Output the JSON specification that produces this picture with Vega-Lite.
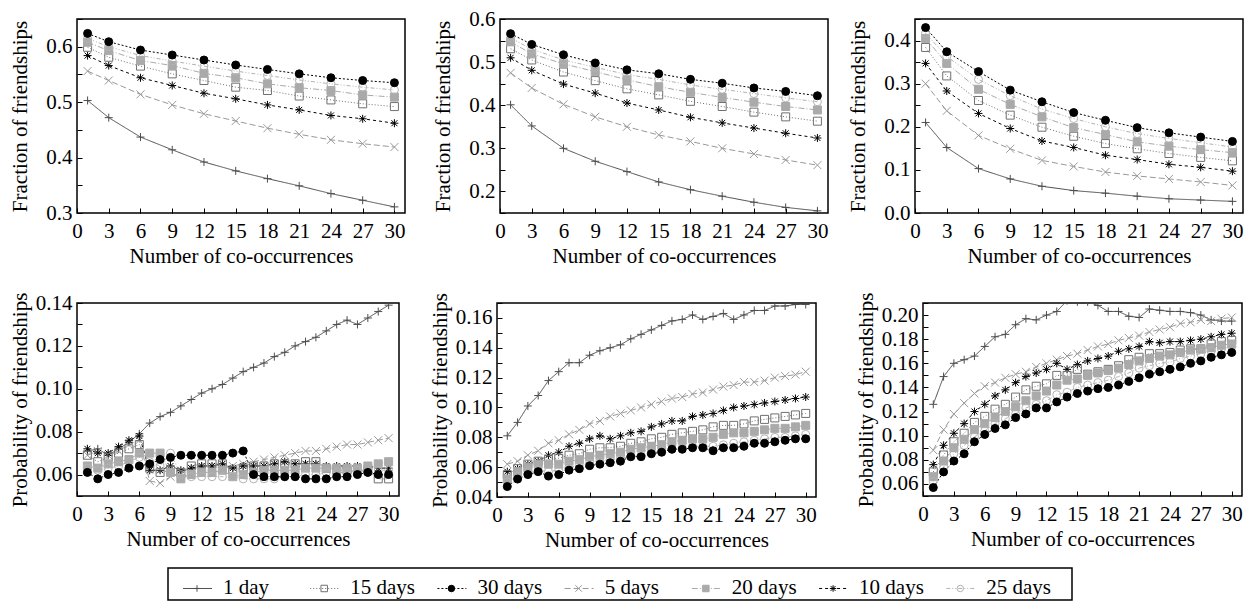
{
"$schema": "https://vega.github.io/schema/vega-lite/v6.json",
"padding": {"top": 7, "left": 8, "right": 5, "bottom": 0},
"datasets": {"d": [
{"p":1,"s":"1 day","x":1,"y":0.503},{"p":1,"s":"1 day","x":3,"y":0.472},{"p":1,"s":"1 day","x":6,"y":0.437},{"p":1,"s":"1 day","x":9,"y":0.414},{"p":1,"s":"1 day","x":12,"y":0.392},{"p":1,"s":"1 day","x":15,"y":0.376},{"p":1,"s":"1 day","x":18,"y":0.362},{"p":1,"s":"1 day","x":21,"y":0.349},{"p":1,"s":"1 day","x":24,"y":0.335},{"p":1,"s":"1 day","x":27,"y":0.323},{"p":1,"s":"1 day","x":30,"y":0.311},
{"p":1,"s":"5 days","x":1,"y":0.556},{"p":1,"s":"5 days","x":3,"y":0.539},{"p":1,"s":"5 days","x":6,"y":0.514},{"p":1,"s":"5 days","x":9,"y":0.495},{"p":1,"s":"5 days","x":12,"y":0.479},{"p":1,"s":"5 days","x":15,"y":0.466},{"p":1,"s":"5 days","x":18,"y":0.453},{"p":1,"s":"5 days","x":21,"y":0.442},{"p":1,"s":"5 days","x":24,"y":0.432},{"p":1,"s":"5 days","x":27,"y":0.425},{"p":1,"s":"5 days","x":30,"y":0.419},
{"p":1,"s":"10 days","x":1,"y":0.584},{"p":1,"s":"10 days","x":3,"y":0.566},{"p":1,"s":"10 days","x":6,"y":0.544},{"p":1,"s":"10 days","x":9,"y":0.530},{"p":1,"s":"10 days","x":12,"y":0.516},{"p":1,"s":"10 days","x":15,"y":0.506},{"p":1,"s":"10 days","x":18,"y":0.495},{"p":1,"s":"10 days","x":21,"y":0.486},{"p":1,"s":"10 days","x":24,"y":0.476},{"p":1,"s":"10 days","x":27,"y":0.470},{"p":1,"s":"10 days","x":30,"y":0.462},
{"p":1,"s":"15 days","x":1,"y":0.599},{"p":1,"s":"15 days","x":3,"y":0.581},{"p":1,"s":"15 days","x":6,"y":0.565},{"p":1,"s":"15 days","x":9,"y":0.551},{"p":1,"s":"15 days","x":12,"y":0.539},{"p":1,"s":"15 days","x":15,"y":0.527},{"p":1,"s":"15 days","x":18,"y":0.521},{"p":1,"s":"15 days","x":21,"y":0.511},{"p":1,"s":"15 days","x":24,"y":0.504},{"p":1,"s":"15 days","x":27,"y":0.497},{"p":1,"s":"15 days","x":30,"y":0.492},
{"p":1,"s":"20 days","x":1,"y":0.608},{"p":1,"s":"20 days","x":3,"y":0.593},{"p":1,"s":"20 days","x":6,"y":0.575},{"p":1,"s":"20 days","x":9,"y":0.566},{"p":1,"s":"20 days","x":12,"y":0.552},{"p":1,"s":"20 days","x":15,"y":0.544},{"p":1,"s":"20 days","x":18,"y":0.533},{"p":1,"s":"20 days","x":21,"y":0.526},{"p":1,"s":"20 days","x":24,"y":0.521},{"p":1,"s":"20 days","x":27,"y":0.513},{"p":1,"s":"20 days","x":30,"y":0.509},
{"p":1,"s":"25 days","x":1,"y":0.615},{"p":1,"s":"25 days","x":3,"y":0.600},{"p":1,"s":"25 days","x":6,"y":0.584},{"p":1,"s":"25 days","x":9,"y":0.574},{"p":1,"s":"25 days","x":12,"y":0.565},{"p":1,"s":"25 days","x":15,"y":0.556},{"p":1,"s":"25 days","x":18,"y":0.548},{"p":1,"s":"25 days","x":21,"y":0.540},{"p":1,"s":"25 days","x":24,"y":0.533},{"p":1,"s":"25 days","x":27,"y":0.527},{"p":1,"s":"25 days","x":30,"y":0.522},
{"p":1,"s":"30 days","x":1,"y":0.624},{"p":1,"s":"30 days","x":3,"y":0.609},{"p":1,"s":"30 days","x":6,"y":0.594},{"p":1,"s":"30 days","x":9,"y":0.585},{"p":1,"s":"30 days","x":12,"y":0.576},{"p":1,"s":"30 days","x":15,"y":0.567},{"p":1,"s":"30 days","x":18,"y":0.559},{"p":1,"s":"30 days","x":21,"y":0.551},{"p":1,"s":"30 days","x":24,"y":0.544},{"p":1,"s":"30 days","x":27,"y":0.539},{"p":1,"s":"30 days","x":30,"y":0.535},
{"p":2,"s":"1 day","x":1,"y":0.401},{"p":2,"s":"1 day","x":3,"y":0.352},{"p":2,"s":"1 day","x":6,"y":0.300},{"p":2,"s":"1 day","x":9,"y":0.270},{"p":2,"s":"1 day","x":12,"y":0.246},{"p":2,"s":"1 day","x":15,"y":0.222},{"p":2,"s":"1 day","x":18,"y":0.204},{"p":2,"s":"1 day","x":21,"y":0.189},{"p":2,"s":"1 day","x":24,"y":0.175},{"p":2,"s":"1 day","x":27,"y":0.163},{"p":2,"s":"1 day","x":30,"y":0.155},
{"p":2,"s":"5 days","x":1,"y":0.475},{"p":2,"s":"5 days","x":3,"y":0.440},{"p":2,"s":"5 days","x":6,"y":0.402},{"p":2,"s":"5 days","x":9,"y":0.373},{"p":2,"s":"5 days","x":12,"y":0.350},{"p":2,"s":"5 days","x":15,"y":0.331},{"p":2,"s":"5 days","x":18,"y":0.316},{"p":2,"s":"5 days","x":21,"y":0.300},{"p":2,"s":"5 days","x":24,"y":0.287},{"p":2,"s":"5 days","x":27,"y":0.273},{"p":2,"s":"5 days","x":30,"y":0.261},
{"p":2,"s":"10 days","x":1,"y":0.510},{"p":2,"s":"10 days","x":3,"y":0.481},{"p":2,"s":"10 days","x":6,"y":0.449},{"p":2,"s":"10 days","x":9,"y":0.428},{"p":2,"s":"10 days","x":12,"y":0.405},{"p":2,"s":"10 days","x":15,"y":0.389},{"p":2,"s":"10 days","x":18,"y":0.372},{"p":2,"s":"10 days","x":21,"y":0.359},{"p":2,"s":"10 days","x":24,"y":0.347},{"p":2,"s":"10 days","x":27,"y":0.335},{"p":2,"s":"10 days","x":30,"y":0.324},
{"p":2,"s":"15 days","x":1,"y":0.531},{"p":2,"s":"15 days","x":3,"y":0.505},{"p":2,"s":"15 days","x":6,"y":0.477},{"p":2,"s":"15 days","x":9,"y":0.457},{"p":2,"s":"15 days","x":12,"y":0.438},{"p":2,"s":"15 days","x":15,"y":0.424},{"p":2,"s":"15 days","x":18,"y":0.409},{"p":2,"s":"15 days","x":21,"y":0.397},{"p":2,"s":"15 days","x":24,"y":0.384},{"p":2,"s":"15 days","x":27,"y":0.373},{"p":2,"s":"15 days","x":30,"y":0.363},
{"p":2,"s":"20 days","x":1,"y":0.547},{"p":2,"s":"20 days","x":3,"y":0.519},{"p":2,"s":"20 days","x":6,"y":0.496},{"p":2,"s":"20 days","x":9,"y":0.478},{"p":2,"s":"20 days","x":12,"y":0.459},{"p":2,"s":"20 days","x":15,"y":0.443},{"p":2,"s":"20 days","x":18,"y":0.430},{"p":2,"s":"20 days","x":21,"y":0.418},{"p":2,"s":"20 days","x":24,"y":0.407},{"p":2,"s":"20 days","x":27,"y":0.397},{"p":2,"s":"20 days","x":30,"y":0.389},
{"p":2,"s":"25 days","x":1,"y":0.556},{"p":2,"s":"25 days","x":3,"y":0.530},{"p":2,"s":"25 days","x":6,"y":0.505},{"p":2,"s":"25 days","x":9,"y":0.488},{"p":2,"s":"25 days","x":12,"y":0.471},{"p":2,"s":"25 days","x":15,"y":0.460},{"p":2,"s":"25 days","x":18,"y":0.447},{"p":2,"s":"25 days","x":21,"y":0.437},{"p":2,"s":"25 days","x":24,"y":0.427},{"p":2,"s":"25 days","x":27,"y":0.417},{"p":2,"s":"25 days","x":30,"y":0.408},
{"p":2,"s":"30 days","x":1,"y":0.566},{"p":2,"s":"30 days","x":3,"y":0.541},{"p":2,"s":"30 days","x":6,"y":0.517},{"p":2,"s":"30 days","x":9,"y":0.498},{"p":2,"s":"30 days","x":12,"y":0.482},{"p":2,"s":"30 days","x":15,"y":0.473},{"p":2,"s":"30 days","x":18,"y":0.460},{"p":2,"s":"30 days","x":21,"y":0.451},{"p":2,"s":"30 days","x":24,"y":0.440},{"p":2,"s":"30 days","x":27,"y":0.432},{"p":2,"s":"30 days","x":30,"y":0.422},
{"p":3,"s":"1 day","x":1,"y":0.210},{"p":3,"s":"1 day","x":3,"y":0.152},{"p":3,"s":"1 day","x":6,"y":0.103},{"p":3,"s":"1 day","x":9,"y":0.079},{"p":3,"s":"1 day","x":12,"y":0.062},{"p":3,"s":"1 day","x":15,"y":0.052},{"p":3,"s":"1 day","x":18,"y":0.046},{"p":3,"s":"1 day","x":21,"y":0.039},{"p":3,"s":"1 day","x":24,"y":0.033},{"p":3,"s":"1 day","x":27,"y":0.030},{"p":3,"s":"1 day","x":30,"y":0.027},
{"p":3,"s":"5 days","x":1,"y":0.300},{"p":3,"s":"5 days","x":3,"y":0.237},{"p":3,"s":"5 days","x":6,"y":0.180},{"p":3,"s":"5 days","x":9,"y":0.149},{"p":3,"s":"5 days","x":12,"y":0.122},{"p":3,"s":"5 days","x":15,"y":0.108},{"p":3,"s":"5 days","x":18,"y":0.095},{"p":3,"s":"5 days","x":21,"y":0.086},{"p":3,"s":"5 days","x":24,"y":0.079},{"p":3,"s":"5 days","x":27,"y":0.072},{"p":3,"s":"5 days","x":30,"y":0.064},
{"p":3,"s":"10 days","x":1,"y":0.347},{"p":3,"s":"10 days","x":3,"y":0.283},{"p":3,"s":"10 days","x":6,"y":0.231},{"p":3,"s":"10 days","x":9,"y":0.196},{"p":3,"s":"10 days","x":12,"y":0.167},{"p":3,"s":"10 days","x":15,"y":0.152},{"p":3,"s":"10 days","x":18,"y":0.134},{"p":3,"s":"10 days","x":21,"y":0.124},{"p":3,"s":"10 days","x":24,"y":0.113},{"p":3,"s":"10 days","x":27,"y":0.106},{"p":3,"s":"10 days","x":30,"y":0.097},
{"p":3,"s":"15 days","x":1,"y":0.384},{"p":3,"s":"15 days","x":3,"y":0.318},{"p":3,"s":"15 days","x":6,"y":0.261},{"p":3,"s":"15 days","x":9,"y":0.227},{"p":3,"s":"15 days","x":12,"y":0.199},{"p":3,"s":"15 days","x":15,"y":0.178},{"p":3,"s":"15 days","x":18,"y":0.161},{"p":3,"s":"15 days","x":21,"y":0.149},{"p":3,"s":"15 days","x":24,"y":0.138},{"p":3,"s":"15 days","x":27,"y":0.129},{"p":3,"s":"15 days","x":30,"y":0.121},
{"p":3,"s":"20 days","x":1,"y":0.405},{"p":3,"s":"20 days","x":3,"y":0.347},{"p":3,"s":"20 days","x":6,"y":0.287},{"p":3,"s":"20 days","x":9,"y":0.252},{"p":3,"s":"20 days","x":12,"y":0.223},{"p":3,"s":"20 days","x":15,"y":0.198},{"p":3,"s":"20 days","x":18,"y":0.182},{"p":3,"s":"20 days","x":21,"y":0.165},{"p":3,"s":"20 days","x":24,"y":0.155},{"p":3,"s":"20 days","x":27,"y":0.147},{"p":3,"s":"20 days","x":30,"y":0.140},
{"p":3,"s":"25 days","x":1,"y":0.417},{"p":3,"s":"25 days","x":3,"y":0.363},{"p":3,"s":"25 days","x":6,"y":0.310},{"p":3,"s":"25 days","x":9,"y":0.272},{"p":3,"s":"25 days","x":12,"y":0.241},{"p":3,"s":"25 days","x":15,"y":0.219},{"p":3,"s":"25 days","x":18,"y":0.200},{"p":3,"s":"25 days","x":21,"y":0.184},{"p":3,"s":"25 days","x":24,"y":0.173},{"p":3,"s":"25 days","x":27,"y":0.163},{"p":3,"s":"25 days","x":30,"y":0.153},
{"p":3,"s":"30 days","x":1,"y":0.430},{"p":3,"s":"30 days","x":3,"y":0.374},{"p":3,"s":"30 days","x":6,"y":0.328},{"p":3,"s":"30 days","x":9,"y":0.285},{"p":3,"s":"30 days","x":12,"y":0.258},{"p":3,"s":"30 days","x":15,"y":0.233},{"p":3,"s":"30 days","x":18,"y":0.215},{"p":3,"s":"30 days","x":21,"y":0.198},{"p":3,"s":"30 days","x":24,"y":0.186},{"p":3,"s":"30 days","x":27,"y":0.176},{"p":3,"s":"30 days","x":30,"y":0.166},
{"p":4,"s":"1 day","x":1,"y":0.071},{"p":4,"s":"1 day","x":2,"y":0.072},{"p":4,"s":"1 day","x":3,"y":0.069},{"p":4,"s":"1 day","x":4,"y":0.072},{"p":4,"s":"1 day","x":5,"y":0.075},{"p":4,"s":"1 day","x":6,"y":0.079},{"p":4,"s":"1 day","x":7,"y":0.084},{"p":4,"s":"1 day","x":8,"y":0.087},{"p":4,"s":"1 day","x":9,"y":0.089},{"p":4,"s":"1 day","x":10,"y":0.092},{"p":4,"s":"1 day","x":11,"y":0.095},{"p":4,"s":"1 day","x":12,"y":0.098},{"p":4,"s":"1 day","x":13,"y":0.100},{"p":4,"s":"1 day","x":14,"y":0.102},{"p":4,"s":"1 day","x":15,"y":0.105},{"p":4,"s":"1 day","x":16,"y":0.108},{"p":4,"s":"1 day","x":17,"y":0.110},{"p":4,"s":"1 day","x":18,"y":0.112},{"p":4,"s":"1 day","x":19,"y":0.115},{"p":4,"s":"1 day","x":20,"y":0.117},{"p":4,"s":"1 day","x":21,"y":0.120},{"p":4,"s":"1 day","x":22,"y":0.122},{"p":4,"s":"1 day","x":23,"y":0.124},{"p":4,"s":"1 day","x":24,"y":0.127},{"p":4,"s":"1 day","x":25,"y":0.130},{"p":4,"s":"1 day","x":26,"y":0.132},{"p":4,"s":"1 day","x":27,"y":0.130},{"p":4,"s":"1 day","x":28,"y":0.133},{"p":4,"s":"1 day","x":29,"y":0.136},{"p":4,"s":"1 day","x":30,"y":0.139},
{"p":4,"s":"5 days","x":1,"y":0.069},{"p":4,"s":"5 days","x":2,"y":0.071},{"p":4,"s":"5 days","x":3,"y":0.069},{"p":4,"s":"5 days","x":4,"y":0.071},{"p":4,"s":"5 days","x":5,"y":0.074},{"p":4,"s":"5 days","x":6,"y":0.076},{"p":4,"s":"5 days","x":7,"y":0.057},{"p":4,"s":"5 days","x":8,"y":0.056},{"p":4,"s":"5 days","x":9,"y":0.059},{"p":4,"s":"5 days","x":10,"y":0.061},{"p":4,"s":"5 days","x":11,"y":0.063},{"p":4,"s":"5 days","x":12,"y":0.063},{"p":4,"s":"5 days","x":13,"y":0.063},{"p":4,"s":"5 days","x":14,"y":0.063},{"p":4,"s":"5 days","x":15,"y":0.064},{"p":4,"s":"5 days","x":16,"y":0.065},{"p":4,"s":"5 days","x":17,"y":0.066},{"p":4,"s":"5 days","x":18,"y":0.067},{"p":4,"s":"5 days","x":19,"y":0.068},{"p":4,"s":"5 days","x":20,"y":0.069},{"p":4,"s":"5 days","x":21,"y":0.070},{"p":4,"s":"5 days","x":22,"y":0.071},{"p":4,"s":"5 days","x":23,"y":0.071},{"p":4,"s":"5 days","x":24,"y":0.072},{"p":4,"s":"5 days","x":25,"y":0.073},{"p":4,"s":"5 days","x":26,"y":0.074},{"p":4,"s":"5 days","x":27,"y":0.074},{"p":4,"s":"5 days","x":28,"y":0.075},{"p":4,"s":"5 days","x":29,"y":0.076},{"p":4,"s":"5 days","x":30,"y":0.077},
{"p":4,"s":"10 days","x":1,"y":0.072},{"p":4,"s":"10 days","x":2,"y":0.070},{"p":4,"s":"10 days","x":3,"y":0.070},{"p":4,"s":"10 days","x":4,"y":0.073},{"p":4,"s":"10 days","x":5,"y":0.076},{"p":4,"s":"10 days","x":6,"y":0.078},{"p":4,"s":"10 days","x":7,"y":0.062},{"p":4,"s":"10 days","x":8,"y":0.062},{"p":4,"s":"10 days","x":9,"y":0.064},{"p":4,"s":"10 days","x":10,"y":0.062},{"p":4,"s":"10 days","x":11,"y":0.063},{"p":4,"s":"10 days","x":12,"y":0.064},{"p":4,"s":"10 days","x":13,"y":0.064},{"p":4,"s":"10 days","x":14,"y":0.065},{"p":4,"s":"10 days","x":15,"y":0.063},{"p":4,"s":"10 days","x":16,"y":0.064},{"p":4,"s":"10 days","x":17,"y":0.064},{"p":4,"s":"10 days","x":18,"y":0.064},{"p":4,"s":"10 days","x":19,"y":0.065},{"p":4,"s":"10 days","x":20,"y":0.066},{"p":4,"s":"10 days","x":21,"y":0.065},{"p":4,"s":"10 days","x":22,"y":0.065},{"p":4,"s":"10 days","x":23,"y":0.065},{"p":4,"s":"10 days","x":24,"y":0.064},{"p":4,"s":"10 days","x":25,"y":0.064},{"p":4,"s":"10 days","x":26,"y":0.064},{"p":4,"s":"10 days","x":27,"y":0.064},{"p":4,"s":"10 days","x":28,"y":0.064},{"p":4,"s":"10 days","x":29,"y":0.063},{"p":4,"s":"10 days","x":30,"y":0.063},
{"p":4,"s":"15 days","x":1,"y":0.069},{"p":4,"s":"15 days","x":2,"y":0.066},{"p":4,"s":"15 days","x":3,"y":0.068},{"p":4,"s":"15 days","x":4,"y":0.070},{"p":4,"s":"15 days","x":5,"y":0.072},{"p":4,"s":"15 days","x":6,"y":0.074},{"p":4,"s":"15 days","x":7,"y":0.063},{"p":4,"s":"15 days","x":8,"y":0.061},{"p":4,"s":"15 days","x":9,"y":0.062},{"p":4,"s":"15 days","x":10,"y":0.061},{"p":4,"s":"15 days","x":11,"y":0.064},{"p":4,"s":"15 days","x":12,"y":0.065},{"p":4,"s":"15 days","x":13,"y":0.065},{"p":4,"s":"15 days","x":14,"y":0.065},{"p":4,"s":"15 days","x":15,"y":0.062},{"p":4,"s":"15 days","x":16,"y":0.063},{"p":4,"s":"15 days","x":17,"y":0.064},{"p":4,"s":"15 days","x":18,"y":0.064},{"p":4,"s":"15 days","x":19,"y":0.065},{"p":4,"s":"15 days","x":20,"y":0.065},{"p":4,"s":"15 days","x":21,"y":0.065},{"p":4,"s":"15 days","x":22,"y":0.066},{"p":4,"s":"15 days","x":23,"y":0.066},{"p":4,"s":"15 days","x":24,"y":0.063},{"p":4,"s":"15 days","x":25,"y":0.062},{"p":4,"s":"15 days","x":26,"y":0.062},{"p":4,"s":"15 days","x":27,"y":0.062},{"p":4,"s":"15 days","x":28,"y":0.062},{"p":4,"s":"15 days","x":29,"y":0.058},{"p":4,"s":"15 days","x":30,"y":0.058},
{"p":4,"s":"20 days","x":1,"y":0.064},{"p":4,"s":"20 days","x":2,"y":0.063},{"p":4,"s":"20 days","x":3,"y":0.065},{"p":4,"s":"20 days","x":4,"y":0.066},{"p":4,"s":"20 days","x":5,"y":0.067},{"p":4,"s":"20 days","x":6,"y":0.070},{"p":4,"s":"20 days","x":7,"y":0.070},{"p":4,"s":"20 days","x":8,"y":0.070},{"p":4,"s":"20 days","x":9,"y":0.061},{"p":4,"s":"20 days","x":10,"y":0.058},{"p":4,"s":"20 days","x":11,"y":0.060},{"p":4,"s":"20 days","x":12,"y":0.061},{"p":4,"s":"20 days","x":13,"y":0.061},{"p":4,"s":"20 days","x":14,"y":0.062},{"p":4,"s":"20 days","x":15,"y":0.059},{"p":4,"s":"20 days","x":16,"y":0.060},{"p":4,"s":"20 days","x":17,"y":0.061},{"p":4,"s":"20 days","x":18,"y":0.062},{"p":4,"s":"20 days","x":19,"y":0.062},{"p":4,"s":"20 days","x":20,"y":0.062},{"p":4,"s":"20 days","x":21,"y":0.062},{"p":4,"s":"20 days","x":22,"y":0.063},{"p":4,"s":"20 days","x":23,"y":0.063},{"p":4,"s":"20 days","x":24,"y":0.063},{"p":4,"s":"20 days","x":25,"y":0.063},{"p":4,"s":"20 days","x":26,"y":0.063},{"p":4,"s":"20 days","x":27,"y":0.063},{"p":4,"s":"20 days","x":28,"y":0.064},{"p":4,"s":"20 days","x":29,"y":0.065},{"p":4,"s":"20 days","x":30,"y":0.066},
{"p":4,"s":"25 days","x":1,"y":0.063},{"p":4,"s":"25 days","x":2,"y":0.062},{"p":4,"s":"25 days","x":3,"y":0.063},{"p":4,"s":"25 days","x":4,"y":0.064},{"p":4,"s":"25 days","x":5,"y":0.066},{"p":4,"s":"25 days","x":6,"y":0.068},{"p":4,"s":"25 days","x":7,"y":0.066},{"p":4,"s":"25 days","x":8,"y":0.064},{"p":4,"s":"25 days","x":9,"y":0.070},{"p":4,"s":"25 days","x":10,"y":0.060},{"p":4,"s":"25 days","x":11,"y":0.059},{"p":4,"s":"25 days","x":12,"y":0.059},{"p":4,"s":"25 days","x":13,"y":0.059},{"p":4,"s":"25 days","x":14,"y":0.059},{"p":4,"s":"25 days","x":15,"y":0.059},{"p":4,"s":"25 days","x":16,"y":0.058},{"p":4,"s":"25 days","x":17,"y":0.058},{"p":4,"s":"25 days","x":18,"y":0.058},{"p":4,"s":"25 days","x":19,"y":0.058},{"p":4,"s":"25 days","x":20,"y":0.059},{"p":4,"s":"25 days","x":21,"y":0.059},{"p":4,"s":"25 days","x":22,"y":0.060},{"p":4,"s":"25 days","x":23,"y":0.060},{"p":4,"s":"25 days","x":24,"y":0.061},{"p":4,"s":"25 days","x":25,"y":0.061},{"p":4,"s":"25 days","x":26,"y":0.061},{"p":4,"s":"25 days","x":27,"y":0.062},{"p":4,"s":"25 days","x":28,"y":0.061},{"p":4,"s":"25 days","x":29,"y":0.062},{"p":4,"s":"25 days","x":30,"y":0.062},
{"p":4,"s":"30 days","x":1,"y":0.061},{"p":4,"s":"30 days","x":2,"y":0.058},{"p":4,"s":"30 days","x":3,"y":0.060},{"p":4,"s":"30 days","x":4,"y":0.061},{"p":4,"s":"30 days","x":5,"y":0.063},{"p":4,"s":"30 days","x":6,"y":0.064},{"p":4,"s":"30 days","x":7,"y":0.065},{"p":4,"s":"30 days","x":8,"y":0.067},{"p":4,"s":"30 days","x":9,"y":0.068},{"p":4,"s":"30 days","x":10,"y":0.069},{"p":4,"s":"30 days","x":11,"y":0.069},{"p":4,"s":"30 days","x":12,"y":0.069},{"p":4,"s":"30 days","x":13,"y":0.069},{"p":4,"s":"30 days","x":14,"y":0.069},{"p":4,"s":"30 days","x":15,"y":0.070},{"p":4,"s":"30 days","x":16,"y":0.071},{"p":4,"s":"30 days","x":17,"y":0.060},{"p":4,"s":"30 days","x":18,"y":0.059},{"p":4,"s":"30 days","x":19,"y":0.059},{"p":4,"s":"30 days","x":20,"y":0.059},{"p":4,"s":"30 days","x":21,"y":0.059},{"p":4,"s":"30 days","x":22,"y":0.058},{"p":4,"s":"30 days","x":23,"y":0.058},{"p":4,"s":"30 days","x":24,"y":0.058},{"p":4,"s":"30 days","x":25,"y":0.059},{"p":4,"s":"30 days","x":26,"y":0.059},{"p":4,"s":"30 days","x":27,"y":0.060},{"p":4,"s":"30 days","x":28,"y":0.061},{"p":4,"s":"30 days","x":29,"y":0.060},{"p":4,"s":"30 days","x":30,"y":0.060},
{"p":5,"s":"1 day","x":1,"y":0.081},{"p":5,"s":"1 day","x":2,"y":0.090},{"p":5,"s":"1 day","x":3,"y":0.101},{"p":5,"s":"1 day","x":4,"y":0.108},{"p":5,"s":"1 day","x":5,"y":0.118},{"p":5,"s":"1 day","x":6,"y":0.124},{"p":5,"s":"1 day","x":7,"y":0.130},{"p":5,"s":"1 day","x":8,"y":0.130},{"p":5,"s":"1 day","x":9,"y":0.135},{"p":5,"s":"1 day","x":10,"y":0.138},{"p":5,"s":"1 day","x":11,"y":0.140},{"p":5,"s":"1 day","x":12,"y":0.142},{"p":5,"s":"1 day","x":13,"y":0.146},{"p":5,"s":"1 day","x":14,"y":0.149},{"p":5,"s":"1 day","x":15,"y":0.152},{"p":5,"s":"1 day","x":16,"y":0.155},{"p":5,"s":"1 day","x":17,"y":0.158},{"p":5,"s":"1 day","x":18,"y":0.159},{"p":5,"s":"1 day","x":19,"y":0.162},{"p":5,"s":"1 day","x":20,"y":0.159},{"p":5,"s":"1 day","x":21,"y":0.161},{"p":5,"s":"1 day","x":22,"y":0.163},{"p":5,"s":"1 day","x":23,"y":0.159},{"p":5,"s":"1 day","x":24,"y":0.162},{"p":5,"s":"1 day","x":25,"y":0.165},{"p":5,"s":"1 day","x":26,"y":0.165},{"p":5,"s":"1 day","x":27,"y":0.168},{"p":5,"s":"1 day","x":28,"y":0.168},{"p":5,"s":"1 day","x":29,"y":0.169},{"p":5,"s":"1 day","x":30,"y":0.169},
{"p":5,"s":"5 days","x":1,"y":0.062},{"p":5,"s":"5 days","x":2,"y":0.064},{"p":5,"s":"5 days","x":3,"y":0.068},{"p":5,"s":"5 days","x":4,"y":0.071},{"p":5,"s":"5 days","x":5,"y":0.076},{"p":5,"s":"5 days","x":6,"y":0.078},{"p":5,"s":"5 days","x":7,"y":0.082},{"p":5,"s":"5 days","x":8,"y":0.085},{"p":5,"s":"5 days","x":9,"y":0.089},{"p":5,"s":"5 days","x":10,"y":0.091},{"p":5,"s":"5 days","x":11,"y":0.094},{"p":5,"s":"5 days","x":12,"y":0.096},{"p":5,"s":"5 days","x":13,"y":0.098},{"p":5,"s":"5 days","x":14,"y":0.100},{"p":5,"s":"5 days","x":15,"y":0.102},{"p":5,"s":"5 days","x":16,"y":0.104},{"p":5,"s":"5 days","x":17,"y":0.106},{"p":5,"s":"5 days","x":18,"y":0.107},{"p":5,"s":"5 days","x":19,"y":0.109},{"p":5,"s":"5 days","x":20,"y":0.110},{"p":5,"s":"5 days","x":21,"y":0.112},{"p":5,"s":"5 days","x":22,"y":0.114},{"p":5,"s":"5 days","x":23,"y":0.115},{"p":5,"s":"5 days","x":24,"y":0.117},{"p":5,"s":"5 days","x":25,"y":0.117},{"p":5,"s":"5 days","x":26,"y":0.118},{"p":5,"s":"5 days","x":27,"y":0.120},{"p":5,"s":"5 days","x":28,"y":0.121},{"p":5,"s":"5 days","x":29,"y":0.122},{"p":5,"s":"5 days","x":30,"y":0.124},
{"p":5,"s":"10 days","x":1,"y":0.057},{"p":5,"s":"10 days","x":2,"y":0.059},{"p":5,"s":"10 days","x":3,"y":0.062},{"p":5,"s":"10 days","x":4,"y":0.064},{"p":5,"s":"10 days","x":5,"y":0.068},{"p":5,"s":"10 days","x":6,"y":0.070},{"p":5,"s":"10 days","x":7,"y":0.074},{"p":5,"s":"10 days","x":8,"y":0.076},{"p":5,"s":"10 days","x":9,"y":0.079},{"p":5,"s":"10 days","x":10,"y":0.081},{"p":5,"s":"10 days","x":11,"y":0.079},{"p":5,"s":"10 days","x":12,"y":0.081},{"p":5,"s":"10 days","x":13,"y":0.083},{"p":5,"s":"10 days","x":14,"y":0.084},{"p":5,"s":"10 days","x":15,"y":0.087},{"p":5,"s":"10 days","x":16,"y":0.089},{"p":5,"s":"10 days","x":17,"y":0.091},{"p":5,"s":"10 days","x":18,"y":0.091},{"p":5,"s":"10 days","x":19,"y":0.094},{"p":5,"s":"10 days","x":20,"y":0.095},{"p":5,"s":"10 days","x":21,"y":0.096},{"p":5,"s":"10 days","x":22,"y":0.098},{"p":5,"s":"10 days","x":23,"y":0.100},{"p":5,"s":"10 days","x":24,"y":0.101},{"p":5,"s":"10 days","x":25,"y":0.102},{"p":5,"s":"10 days","x":26,"y":0.103},{"p":5,"s":"10 days","x":27,"y":0.104},{"p":5,"s":"10 days","x":28,"y":0.105},{"p":5,"s":"10 days","x":29,"y":0.106},{"p":5,"s":"10 days","x":30,"y":0.107},
{"p":5,"s":"15 days","x":1,"y":0.055},{"p":5,"s":"15 days","x":2,"y":0.059},{"p":5,"s":"15 days","x":3,"y":0.062},{"p":5,"s":"15 days","x":4,"y":0.064},{"p":5,"s":"15 days","x":5,"y":0.065},{"p":5,"s":"15 days","x":6,"y":0.066},{"p":5,"s":"15 days","x":7,"y":0.068},{"p":5,"s":"15 days","x":8,"y":0.069},{"p":5,"s":"15 days","x":9,"y":0.072},{"p":5,"s":"15 days","x":10,"y":0.073},{"p":5,"s":"15 days","x":11,"y":0.073},{"p":5,"s":"15 days","x":12,"y":0.074},{"p":5,"s":"15 days","x":13,"y":0.076},{"p":5,"s":"15 days","x":14,"y":0.077},{"p":5,"s":"15 days","x":15,"y":0.079},{"p":5,"s":"15 days","x":16,"y":0.080},{"p":5,"s":"15 days","x":17,"y":0.082},{"p":5,"s":"15 days","x":18,"y":0.083},{"p":5,"s":"15 days","x":19,"y":0.084},{"p":5,"s":"15 days","x":20,"y":0.085},{"p":5,"s":"15 days","x":21,"y":0.087},{"p":5,"s":"15 days","x":22,"y":0.088},{"p":5,"s":"15 days","x":23,"y":0.088},{"p":5,"s":"15 days","x":24,"y":0.089},{"p":5,"s":"15 days","x":25,"y":0.091},{"p":5,"s":"15 days","x":26,"y":0.092},{"p":5,"s":"15 days","x":27,"y":0.093},{"p":5,"s":"15 days","x":28,"y":0.094},{"p":5,"s":"15 days","x":29,"y":0.095},{"p":5,"s":"15 days","x":30,"y":0.096},
{"p":5,"s":"20 days","x":1,"y":0.052},{"p":5,"s":"20 days","x":2,"y":0.057},{"p":5,"s":"20 days","x":3,"y":0.060},{"p":5,"s":"20 days","x":4,"y":0.062},{"p":5,"s":"20 days","x":5,"y":0.062},{"p":5,"s":"20 days","x":6,"y":0.062},{"p":5,"s":"20 days","x":7,"y":0.064},{"p":5,"s":"20 days","x":8,"y":0.065},{"p":5,"s":"20 days","x":9,"y":0.067},{"p":5,"s":"20 days","x":10,"y":0.068},{"p":5,"s":"20 days","x":11,"y":0.069},{"p":5,"s":"20 days","x":12,"y":0.070},{"p":5,"s":"20 days","x":13,"y":0.072},{"p":5,"s":"20 days","x":14,"y":0.073},{"p":5,"s":"20 days","x":15,"y":0.074},{"p":5,"s":"20 days","x":16,"y":0.075},{"p":5,"s":"20 days","x":17,"y":0.077},{"p":5,"s":"20 days","x":18,"y":0.078},{"p":5,"s":"20 days","x":19,"y":0.079},{"p":5,"s":"20 days","x":20,"y":0.079},{"p":5,"s":"20 days","x":21,"y":0.080},{"p":5,"s":"20 days","x":22,"y":0.082},{"p":5,"s":"20 days","x":23,"y":0.083},{"p":5,"s":"20 days","x":24,"y":0.083},{"p":5,"s":"20 days","x":25,"y":0.084},{"p":5,"s":"20 days","x":26,"y":0.085},{"p":5,"s":"20 days","x":27,"y":0.086},{"p":5,"s":"20 days","x":28,"y":0.086},{"p":5,"s":"20 days","x":29,"y":0.087},{"p":5,"s":"20 days","x":30,"y":0.088},
{"p":5,"s":"25 days","x":1,"y":0.050},{"p":5,"s":"25 days","x":2,"y":0.054},{"p":5,"s":"25 days","x":3,"y":0.057},{"p":5,"s":"25 days","x":4,"y":0.058},{"p":5,"s":"25 days","x":5,"y":0.057},{"p":5,"s":"25 days","x":6,"y":0.058},{"p":5,"s":"25 days","x":7,"y":0.060},{"p":5,"s":"25 days","x":8,"y":0.061},{"p":5,"s":"25 days","x":9,"y":0.063},{"p":5,"s":"25 days","x":10,"y":0.064},{"p":5,"s":"25 days","x":11,"y":0.065},{"p":5,"s":"25 days","x":12,"y":0.066},{"p":5,"s":"25 days","x":13,"y":0.067},{"p":5,"s":"25 days","x":14,"y":0.068},{"p":5,"s":"25 days","x":15,"y":0.070},{"p":5,"s":"25 days","x":16,"y":0.071},{"p":5,"s":"25 days","x":17,"y":0.072},{"p":5,"s":"25 days","x":18,"y":0.073},{"p":5,"s":"25 days","x":19,"y":0.074},{"p":5,"s":"25 days","x":20,"y":0.074},{"p":5,"s":"25 days","x":21,"y":0.074},{"p":5,"s":"25 days","x":22,"y":0.075},{"p":5,"s":"25 days","x":23,"y":0.076},{"p":5,"s":"25 days","x":24,"y":0.077},{"p":5,"s":"25 days","x":25,"y":0.078},{"p":5,"s":"25 days","x":26,"y":0.079},{"p":5,"s":"25 days","x":27,"y":0.080},{"p":5,"s":"25 days","x":28,"y":0.080},{"p":5,"s":"25 days","x":29,"y":0.081},{"p":5,"s":"25 days","x":30,"y":0.082},
{"p":5,"s":"30 days","x":1,"y":0.047},{"p":5,"s":"30 days","x":2,"y":0.052},{"p":5,"s":"30 days","x":3,"y":0.055},{"p":5,"s":"30 days","x":4,"y":0.057},{"p":5,"s":"30 days","x":5,"y":0.054},{"p":5,"s":"30 days","x":6,"y":0.055},{"p":5,"s":"30 days","x":7,"y":0.058},{"p":5,"s":"30 days","x":8,"y":0.059},{"p":5,"s":"30 days","x":9,"y":0.061},{"p":5,"s":"30 days","x":10,"y":0.062},{"p":5,"s":"30 days","x":11,"y":0.063},{"p":5,"s":"30 days","x":12,"y":0.064},{"p":5,"s":"30 days","x":13,"y":0.067},{"p":5,"s":"30 days","x":14,"y":0.067},{"p":5,"s":"30 days","x":15,"y":0.069},{"p":5,"s":"30 days","x":16,"y":0.070},{"p":5,"s":"30 days","x":17,"y":0.072},{"p":5,"s":"30 days","x":18,"y":0.072},{"p":5,"s":"30 days","x":19,"y":0.073},{"p":5,"s":"30 days","x":20,"y":0.073},{"p":5,"s":"30 days","x":21,"y":0.071},{"p":5,"s":"30 days","x":22,"y":0.073},{"p":5,"s":"30 days","x":23,"y":0.073},{"p":5,"s":"30 days","x":24,"y":0.074},{"p":5,"s":"30 days","x":25,"y":0.076},{"p":5,"s":"30 days","x":26,"y":0.076},{"p":5,"s":"30 days","x":27,"y":0.077},{"p":5,"s":"30 days","x":28,"y":0.078},{"p":5,"s":"30 days","x":29,"y":0.079},{"p":5,"s":"30 days","x":30,"y":0.079},
{"p":6,"s":"1 day","x":1,"y":0.126},{"p":6,"s":"1 day","x":2,"y":0.149},{"p":6,"s":"1 day","x":3,"y":0.160},{"p":6,"s":"1 day","x":4,"y":0.163},{"p":6,"s":"1 day","x":5,"y":0.166},{"p":6,"s":"1 day","x":6,"y":0.174},{"p":6,"s":"1 day","x":7,"y":0.182},{"p":6,"s":"1 day","x":8,"y":0.184},{"p":6,"s":"1 day","x":9,"y":0.192},{"p":6,"s":"1 day","x":10,"y":0.197},{"p":6,"s":"1 day","x":11,"y":0.196},{"p":6,"s":"1 day","x":12,"y":0.200},{"p":6,"s":"1 day","x":13,"y":0.203},{"p":6,"s":"1 day","x":14,"y":0.212},{"p":6,"s":"1 day","x":15,"y":0.211},{"p":6,"s":"1 day","x":16,"y":0.211},{"p":6,"s":"1 day","x":17,"y":0.208},{"p":6,"s":"1 day","x":18,"y":0.203},{"p":6,"s":"1 day","x":19,"y":0.203},{"p":6,"s":"1 day","x":20,"y":0.199},{"p":6,"s":"1 day","x":21,"y":0.198},{"p":6,"s":"1 day","x":22,"y":0.205},{"p":6,"s":"1 day","x":23,"y":0.204},{"p":6,"s":"1 day","x":24,"y":0.203},{"p":6,"s":"1 day","x":25,"y":0.203},{"p":6,"s":"1 day","x":26,"y":0.202},{"p":6,"s":"1 day","x":27,"y":0.200},{"p":6,"s":"1 day","x":28,"y":0.196},{"p":6,"s":"1 day","x":29,"y":0.195},{"p":6,"s":"1 day","x":30,"y":0.195},
{"p":6,"s":"5 days","x":1,"y":0.088},{"p":6,"s":"5 days","x":2,"y":0.105},{"p":6,"s":"5 days","x":3,"y":0.118},{"p":6,"s":"5 days","x":4,"y":0.127},{"p":6,"s":"5 days","x":5,"y":0.135},{"p":6,"s":"5 days","x":6,"y":0.141},{"p":6,"s":"5 days","x":7,"y":0.144},{"p":6,"s":"5 days","x":8,"y":0.148},{"p":6,"s":"5 days","x":9,"y":0.151},{"p":6,"s":"5 days","x":10,"y":0.153},{"p":6,"s":"5 days","x":11,"y":0.157},{"p":6,"s":"5 days","x":12,"y":0.160},{"p":6,"s":"5 days","x":13,"y":0.163},{"p":6,"s":"5 days","x":14,"y":0.166},{"p":6,"s":"5 days","x":15,"y":0.168},{"p":6,"s":"5 days","x":16,"y":0.171},{"p":6,"s":"5 days","x":17,"y":0.174},{"p":6,"s":"5 days","x":18,"y":0.176},{"p":6,"s":"5 days","x":19,"y":0.179},{"p":6,"s":"5 days","x":20,"y":0.181},{"p":6,"s":"5 days","x":21,"y":0.183},{"p":6,"s":"5 days","x":22,"y":0.186},{"p":6,"s":"5 days","x":23,"y":0.188},{"p":6,"s":"5 days","x":24,"y":0.190},{"p":6,"s":"5 days","x":25,"y":0.193},{"p":6,"s":"5 days","x":26,"y":0.194},{"p":6,"s":"5 days","x":27,"y":0.196},{"p":6,"s":"5 days","x":28,"y":0.195},{"p":6,"s":"5 days","x":29,"y":0.197},{"p":6,"s":"5 days","x":30,"y":0.198},
{"p":6,"s":"10 days","x":1,"y":0.076},{"p":6,"s":"10 days","x":2,"y":0.092},{"p":6,"s":"10 days","x":3,"y":0.102},{"p":6,"s":"10 days","x":4,"y":0.110},{"p":6,"s":"10 days","x":5,"y":0.120},{"p":6,"s":"10 days","x":6,"y":0.126},{"p":6,"s":"10 days","x":7,"y":0.133},{"p":6,"s":"10 days","x":8,"y":0.138},{"p":6,"s":"10 days","x":9,"y":0.144},{"p":6,"s":"10 days","x":10,"y":0.149},{"p":6,"s":"10 days","x":11,"y":0.152},{"p":6,"s":"10 days","x":12,"y":0.155},{"p":6,"s":"10 days","x":13,"y":0.160},{"p":6,"s":"10 days","x":14,"y":0.155},{"p":6,"s":"10 days","x":15,"y":0.159},{"p":6,"s":"10 days","x":16,"y":0.162},{"p":6,"s":"10 days","x":17,"y":0.164},{"p":6,"s":"10 days","x":18,"y":0.166},{"p":6,"s":"10 days","x":19,"y":0.170},{"p":6,"s":"10 days","x":20,"y":0.172},{"p":6,"s":"10 days","x":21,"y":0.174},{"p":6,"s":"10 days","x":22,"y":0.178},{"p":6,"s":"10 days","x":23,"y":0.177},{"p":6,"s":"10 days","x":24,"y":0.178},{"p":6,"s":"10 days","x":25,"y":0.178},{"p":6,"s":"10 days","x":26,"y":0.179},{"p":6,"s":"10 days","x":27,"y":0.180},{"p":6,"s":"10 days","x":28,"y":0.182},{"p":6,"s":"10 days","x":29,"y":0.184},{"p":6,"s":"10 days","x":30,"y":0.185},
{"p":6,"s":"15 days","x":1,"y":0.070},{"p":6,"s":"15 days","x":2,"y":0.084},{"p":6,"s":"15 days","x":3,"y":0.095},{"p":6,"s":"15 days","x":4,"y":0.102},{"p":6,"s":"15 days","x":5,"y":0.111},{"p":6,"s":"15 days","x":6,"y":0.116},{"p":6,"s":"15 days","x":7,"y":0.122},{"p":6,"s":"15 days","x":8,"y":0.126},{"p":6,"s":"15 days","x":9,"y":0.132},{"p":6,"s":"15 days","x":10,"y":0.138},{"p":6,"s":"15 days","x":11,"y":0.141},{"p":6,"s":"15 days","x":12,"y":0.143},{"p":6,"s":"15 days","x":13,"y":0.150},{"p":6,"s":"15 days","x":14,"y":0.150},{"p":6,"s":"15 days","x":15,"y":0.155},{"p":6,"s":"15 days","x":16,"y":0.151},{"p":6,"s":"15 days","x":17,"y":0.153},{"p":6,"s":"15 days","x":18,"y":0.155},{"p":6,"s":"15 days","x":19,"y":0.158},{"p":6,"s":"15 days","x":20,"y":0.163},{"p":6,"s":"15 days","x":21,"y":0.165},{"p":6,"s":"15 days","x":22,"y":0.168},{"p":6,"s":"15 days","x":23,"y":0.168},{"p":6,"s":"15 days","x":24,"y":0.169},{"p":6,"s":"15 days","x":25,"y":0.171},{"p":6,"s":"15 days","x":26,"y":0.172},{"p":6,"s":"15 days","x":27,"y":0.172},{"p":6,"s":"15 days","x":28,"y":0.176},{"p":6,"s":"15 days","x":29,"y":0.178},{"p":6,"s":"15 days","x":30,"y":0.179},
{"p":6,"s":"20 days","x":1,"y":0.066},{"p":6,"s":"20 days","x":2,"y":0.079},{"p":6,"s":"20 days","x":3,"y":0.090},{"p":6,"s":"20 days","x":4,"y":0.097},{"p":6,"s":"20 days","x":5,"y":0.105},{"p":6,"s":"20 days","x":6,"y":0.110},{"p":6,"s":"20 days","x":7,"y":0.115},{"p":6,"s":"20 days","x":8,"y":0.120},{"p":6,"s":"20 days","x":9,"y":0.124},{"p":6,"s":"20 days","x":10,"y":0.129},{"p":6,"s":"20 days","x":11,"y":0.133},{"p":6,"s":"20 days","x":12,"y":0.137},{"p":6,"s":"20 days","x":13,"y":0.142},{"p":6,"s":"20 days","x":14,"y":0.146},{"p":6,"s":"20 days","x":15,"y":0.147},{"p":6,"s":"20 days","x":16,"y":0.150},{"p":6,"s":"20 days","x":17,"y":0.152},{"p":6,"s":"20 days","x":18,"y":0.154},{"p":6,"s":"20 days","x":19,"y":0.156},{"p":6,"s":"20 days","x":20,"y":0.159},{"p":6,"s":"20 days","x":21,"y":0.162},{"p":6,"s":"20 days","x":22,"y":0.164},{"p":6,"s":"20 days","x":23,"y":0.166},{"p":6,"s":"20 days","x":24,"y":0.167},{"p":6,"s":"20 days","x":25,"y":0.169},{"p":6,"s":"20 days","x":26,"y":0.171},{"p":6,"s":"20 days","x":27,"y":0.172},{"p":6,"s":"20 days","x":28,"y":0.173},{"p":6,"s":"20 days","x":29,"y":0.175},{"p":6,"s":"20 days","x":30,"y":0.176},
{"p":6,"s":"25 days","x":1,"y":0.062},{"p":6,"s":"25 days","x":2,"y":0.074},{"p":6,"s":"25 days","x":3,"y":0.085},{"p":6,"s":"25 days","x":4,"y":0.092},{"p":6,"s":"25 days","x":5,"y":0.099},{"p":6,"s":"25 days","x":6,"y":0.104},{"p":6,"s":"25 days","x":7,"y":0.110},{"p":6,"s":"25 days","x":8,"y":0.114},{"p":6,"s":"25 days","x":9,"y":0.118},{"p":6,"s":"25 days","x":10,"y":0.123},{"p":6,"s":"25 days","x":11,"y":0.126},{"p":6,"s":"25 days","x":12,"y":0.129},{"p":6,"s":"25 days","x":13,"y":0.134},{"p":6,"s":"25 days","x":14,"y":0.136},{"p":6,"s":"25 days","x":15,"y":0.140},{"p":6,"s":"25 days","x":16,"y":0.142},{"p":6,"s":"25 days","x":17,"y":0.144},{"p":6,"s":"25 days","x":18,"y":0.146},{"p":6,"s":"25 days","x":19,"y":0.149},{"p":6,"s":"25 days","x":20,"y":0.152},{"p":6,"s":"25 days","x":21,"y":0.156},{"p":6,"s":"25 days","x":22,"y":0.158},{"p":6,"s":"25 days","x":23,"y":0.160},{"p":6,"s":"25 days","x":24,"y":0.161},{"p":6,"s":"25 days","x":25,"y":0.164},{"p":6,"s":"25 days","x":26,"y":0.166},{"p":6,"s":"25 days","x":27,"y":0.168},{"p":6,"s":"25 days","x":28,"y":0.170},{"p":6,"s":"25 days","x":29,"y":0.172},{"p":6,"s":"25 days","x":30,"y":0.174},
{"p":6,"s":"30 days","x":1,"y":0.057},{"p":6,"s":"30 days","x":2,"y":0.070},{"p":6,"s":"30 days","x":3,"y":0.079},{"p":6,"s":"30 days","x":4,"y":0.085},{"p":6,"s":"30 days","x":5,"y":0.095},{"p":6,"s":"30 days","x":6,"y":0.101},{"p":6,"s":"30 days","x":7,"y":0.106},{"p":6,"s":"30 days","x":8,"y":0.109},{"p":6,"s":"30 days","x":9,"y":0.115},{"p":6,"s":"30 days","x":10,"y":0.118},{"p":6,"s":"30 days","x":11,"y":0.123},{"p":6,"s":"30 days","x":12,"y":0.123},{"p":6,"s":"30 days","x":13,"y":0.128},{"p":6,"s":"30 days","x":14,"y":0.132},{"p":6,"s":"30 days","x":15,"y":0.135},{"p":6,"s":"30 days","x":16,"y":0.137},{"p":6,"s":"30 days","x":17,"y":0.139},{"p":6,"s":"30 days","x":18,"y":0.140},{"p":6,"s":"30 days","x":19,"y":0.142},{"p":6,"s":"30 days","x":20,"y":0.145},{"p":6,"s":"30 days","x":21,"y":0.148},{"p":6,"s":"30 days","x":22,"y":0.151},{"p":6,"s":"30 days","x":23,"y":0.153},{"p":6,"s":"30 days","x":24,"y":0.155},{"p":6,"s":"30 days","x":25,"y":0.157},{"p":6,"s":"30 days","x":26,"y":0.160},{"p":6,"s":"30 days","x":27,"y":0.162},{"p":6,"s":"30 days","x":28,"y":0.165},{"p":6,"s":"30 days","x":29,"y":0.167},{"p":6,"s":"30 days","x":30,"y":0.169}
]},
"config": {
  "view": {"stroke": "black", "strokeWidth": 1.5},
  "font": "Liberation Serif",
  "axis": {"labelFont": "Liberation Serif", "titleFont": "Liberation Serif", "labelFontSize": 21, "titleFontSize": 21, "titleFontWeight": "normal", "labelColor": "black", "titleColor": "black", "tickColor": "black", "tickSize": -5, "tickWidth": 1, "domain": false, "grid": false, "labelPadding": 10, "labelOverlap": false, "labelFlush": false, "titlePadding": 5},
  "axisX": {"labelPadding": 12, "titlePadding": 4},
  "axisY": {"minExtent": 44, "maxExtent": 44, "titlePadding": 3}
},
"spacing": 16,
"vconcat": [
 {"spacing": 24, "vconcat": [
 {"spacing": 17, "hconcat": [
  {"spacing": 25, "hconcat": [
   {"width": 328, "height": 194, "data": {"name": "d"}, "transform": [{"filter": "datum.p == 1"}],
    "encoding": {
     "x": {"field": "x", "type": "quantitative", "scale": {"domain": [0, 31], "nice": false}, "axis": {"title": "Number of co-occurrences", "values": [0,3,6,9,12,15,18,21,24,27,30]}},
     "y": {"field": "y", "type": "quantitative", "scale": {"domain": [0.3, 0.65], "nice": false, "zero": false}, "axis": {"title": "Fraction of friendships", "values": [0.3,0.35,0.4,0.45,0.5,0.55,0.6,0.65], "labelExpr": "round(datum.value*100) % 10 == 0 ? format(datum.value, '.1f') : ''"}},
     "stroke": {"field": "s", "type": "nominal", "scale": {"domain": ["1 day","5 days","10 days","15 days","20 days","25 days","30 days"], "range": ["#4d4d4d","#999999","#000000","#707070","#aaaaaa","#b3b3b3","#000000"]}, "legend": null}
    },
    "layer": [
     {"mark": {"type": "line", "strokeWidth": 1, "clip": true}, "encoding": {"strokeDash": {"field": "s", "type": "nominal", "scale": {"domain": ["1 day","5 days","10 days","15 days","20 days","25 days","30 days"], "range": [[1,0],[6,3],[3,3],[1,2],[6,2,1,2],[4,2,1,2,1,2],[2,2]]}, "legend": null}}},
     {"mark": {"type": "point", "filled": true, "opacity": 1, "strokeWidth": 1, "clip": true}, "encoding": {
       "shape": {"field": "s", "type": "nominal", "scale": {"domain": ["1 day","5 days","10 days","15 days","20 days","25 days","30 days"], "range": ["M-1,0H1M0,-1V1","M-1,-1L1,1M-1,1L1,-1","M-1,0H1M0,-1V1M-0.75,-0.75L0.75,0.75M-0.75,0.75L0.75,-0.75","square","square","circle","circle"]}, "legend": null},
       "fill": {"field": "s", "type": "nominal", "scale": {"domain": ["1 day","5 days","10 days","15 days","20 days","25 days","30 days"], "range": ["transparent","transparent","transparent","transparent","#aaaaaa","transparent","#000000"]}, "legend": null},
       "size": {"field": "s", "type": "nominal", "scale": {"domain": ["1 day","5 days","10 days","15 days","20 days","25 days","30 days"], "range": [64,64,81,56,64,72,81]}, "legend": null}}}
    ]},
   {"width": 328, "height": 194, "data": {"name": "d"}, "transform": [{"filter": "datum.p == 2"}],
    "encoding": {
     "x": {"field": "x", "type": "quantitative", "scale": {"domain": [0, 31], "nice": false}, "axis": {"title": "Number of co-occurrences", "values": [0,3,6,9,12,15,18,21,24,27,30]}},
     "y": {"field": "y", "type": "quantitative", "scale": {"domain": [0.15, 0.6], "nice": false, "zero": false}, "axis": {"title": "Fraction of friendships", "values": [0.15,0.2,0.25,0.3,0.35,0.4,0.45,0.5,0.55,0.6], "labelExpr": "round(datum.value*100) % 10 == 0 ? format(datum.value, '.1f') : ''"}},
     "stroke": {"field": "s", "type": "nominal", "legend": null}
    },
    "layer": [
     {"mark": {"type": "line", "strokeWidth": 1, "clip": true}, "encoding": {"strokeDash": {"field": "s", "type": "nominal", "legend": null}}},
     {"mark": {"type": "point", "filled": true, "opacity": 1, "strokeWidth": 1, "clip": true}, "encoding": {
       "shape": {"field": "s", "type": "nominal", "legend": null},
       "fill": {"field": "s", "type": "nominal", "legend": null},
       "size": {"field": "s", "type": "nominal", "legend": null}}}
    ]}
  ]},
  {"width": 328, "height": 194, "data": {"name": "d"}, "transform": [{"filter": "datum.p == 3"}],
    "encoding": {
     "x": {"field": "x", "type": "quantitative", "scale": {"domain": [0, 31], "nice": false}, "axis": {"title": "Number of co-occurrences", "values": [0,3,6,9,12,15,18,21,24,27,30]}},
     "y": {"field": "y", "type": "quantitative", "scale": {"domain": [0, 0.45], "nice": false, "zero": false}, "axis": {"title": "Fraction of friendships", "values": [0,0.05,0.1,0.15,0.2,0.25,0.3,0.35,0.4,0.45], "labelExpr": "round(datum.value*100) % 10 == 0 ? format(datum.value, '.1f') : ''"}},
     "stroke": {"field": "s", "type": "nominal", "legend": null}
    },
    "layer": [
     {"mark": {"type": "line", "strokeWidth": 1, "clip": true}, "encoding": {"strokeDash": {"field": "s", "type": "nominal", "legend": null}}},
     {"mark": {"type": "point", "filled": true, "opacity": 1, "strokeWidth": 1, "clip": true}, "encoding": {
       "shape": {"field": "s", "type": "nominal", "legend": null},
       "fill": {"field": "s", "type": "nominal", "legend": null},
       "size": {"field": "s", "type": "nominal", "legend": null}}}
    ]}
 ]},
 {"spacing": 28, "hconcat": [
  {"width": 322, "height": 193, "data": {"name": "d"}, "transform": [{"filter": "datum.p == 4"}],
    "encoding": {
     "x": {"field": "x", "type": "quantitative", "scale": {"domain": [0, 31], "nice": false}, "axis": {"title": "Number of co-occurrences", "values": [0,3,6,9,12,15,18,21,24,27,30]}},
     "y": {"field": "y", "type": "quantitative", "scale": {"domain": [0.05, 0.14], "nice": false, "zero": false}, "axis": {"title": "Probability of friendships", "values": [0.05,0.06,0.07,0.08,0.09,0.1,0.11,0.12,0.13,0.14], "labelExpr": "round(datum.value*100) % 2 == 0 ? format(datum.value, '.2f') : ''"}},
     "stroke": {"field": "s", "type": "nominal", "legend": null}
    },
    "layer": [
     {"mark": {"type": "line", "strokeWidth": 1, "clip": true}, "encoding": {"strokeDash": {"field": "s", "type": "nominal", "legend": null}}},
     {"mark": {"type": "point", "filled": true, "opacity": 1, "strokeWidth": 1, "clip": true}, "encoding": {
       "shape": {"field": "s", "type": "nominal", "legend": null},
       "fill": {"field": "s", "type": "nominal", "legend": null},
       "size": {"field": "s", "type": "nominal", "legend": null}}}
    ]},
  {"spacing": 37, "hconcat": [
   {"width": 319, "height": 194, "data": {"name": "d"}, "transform": [{"filter": "datum.p == 5"}],
    "encoding": {
     "x": {"field": "x", "type": "quantitative", "scale": {"domain": [0, 31], "nice": false}, "axis": {"title": "Number of co-occurrences", "values": [0,3,6,9,12,15,18,21,24,27,30]}},
     "y": {"field": "y", "type": "quantitative", "scale": {"domain": [0.04, 0.17], "nice": false, "zero": false}, "axis": {"title": "Probability of friendships", "values": [0.04,0.05,0.06,0.07,0.08,0.09,0.1,0.11,0.12,0.13,0.14,0.15,0.16,0.17], "labelExpr": "round(datum.value*100) % 2 == 0 ? format(datum.value, '.2f') : ''"}},
     "stroke": {"field": "s", "type": "nominal", "legend": null}
    },
    "layer": [
     {"mark": {"type": "line", "strokeWidth": 1, "clip": true}, "encoding": {"strokeDash": {"field": "s", "type": "nominal", "legend": null}}},
     {"mark": {"type": "point", "filled": true, "opacity": 1, "strokeWidth": 1, "clip": true}, "encoding": {
       "shape": {"field": "s", "type": "nominal", "legend": null},
       "fill": {"field": "s", "type": "nominal", "legend": null},
       "size": {"field": "s", "type": "nominal", "legend": null}}}
    ]},
   {"width": 319, "height": 193, "data": {"name": "d"}, "transform": [{"filter": "datum.p == 6"}],
    "encoding": {
     "x": {"field": "x", "type": "quantitative", "scale": {"domain": [0, 31], "nice": false}, "axis": {"title": "Number of co-occurrences", "values": [0,3,6,9,12,15,18,21,24,27,30]}},
     "y": {"field": "y", "type": "quantitative", "scale": {"domain": [0.05, 0.21], "nice": false, "zero": false}, "axis": {"title": "Probability of friendships", "values": [0.05,0.06,0.07,0.08,0.09,0.1,0.11,0.12,0.13,0.14,0.15,0.16,0.17,0.18,0.19,0.2,0.21], "labelExpr": "round(datum.value*100) % 2 == 0 ? format(datum.value, '.2f') : ''"}},
     "stroke": {"field": "s", "type": "nominal", "legend": null}
    },
    "layer": [
     {"mark": {"type": "line", "strokeWidth": 1, "clip": true}, "encoding": {"strokeDash": {"field": "s", "type": "nominal", "legend": null}}},
     {"mark": {"type": "point", "filled": true, "opacity": 1, "strokeWidth": 1, "clip": true}, "encoding": {
       "shape": {"field": "s", "type": "nominal", "legend": null},
       "fill": {"field": "s", "type": "nominal", "legend": null},
       "size": {"field": "s", "type": "nominal", "legend": null}}}
    ]}
  ]}
 ]}
 ]},
 {"spacing": 0, "hconcat": [
  {"width": 90, "height": 32, "view": {"stroke": null}, "data": {"values": []}, "mark": "point"},
  {"width": 904, "height": 32,
  "data": {"values": [{"s": "1 day"},{"s": "15 days"},{"s": "30 days"},{"s": "5 days"},{"s": "20 days"},{"s": "10 days"},{"s": "25 days"}]},
  "encoding": {
    "x": {"field": "s", "type": "nominal", "scale": {"type": "point", "domain": ["1 day","15 days","30 days","5 days","20 days","10 days","25 days"], "padding": 0.553, "align": 0.206}, "axis": null},
    "y": {"datum": "k", "type": "nominal", "scale": {"type": "point", "align": 0.64}, "axis": null},
    "stroke": {"field": "s", "type": "nominal", "legend": null}
  },
  "layer": [
    {"mark": {"type": "rule", "xOffset": -14, "x2Offset": 15, "strokeWidth": 1}, "encoding": {"x2": {"field": "s"}, "strokeDash": {"field": "s", "type": "nominal", "legend": null}}},
    {"mark": {"type": "point", "filled": true, "opacity": 1, "strokeWidth": 1, "size": 42}, "encoding": {
       "shape": {"field": "s", "type": "nominal", "legend": null},
       "fill": {"field": "s", "type": "nominal", "legend": null}}},
    {"mark": {"type": "text", "align": "left", "baseline": "middle", "xOffset": 26, "fontSize": 21, "font": "Liberation Serif", "color": "black"}, "encoding": {"text": {"field": "s"}, "stroke": {"value": null}}}
  ]}
 ]}
]
}
